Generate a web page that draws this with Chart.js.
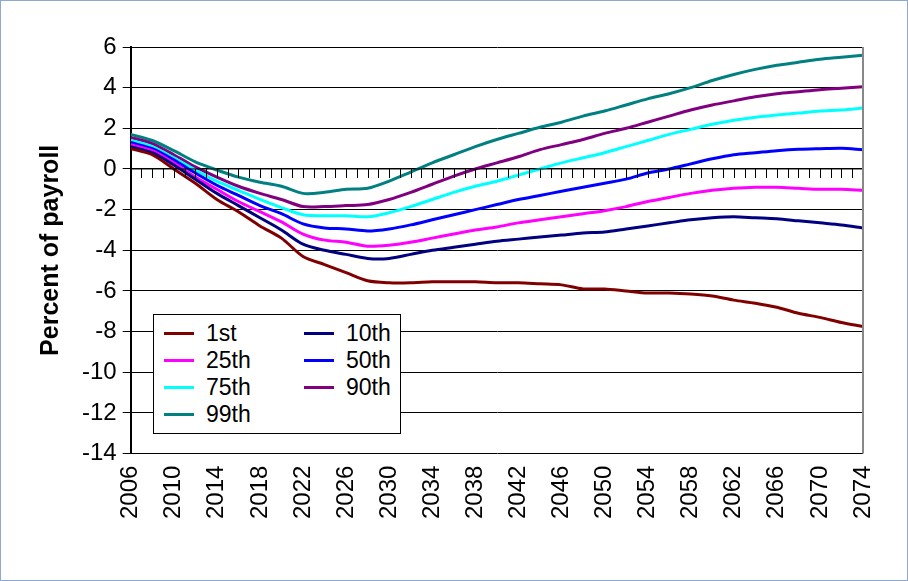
<!DOCTYPE html>
<html>
<head>
<meta charset="utf-8">
<script src="https://cdn.jsdelivr.net/npm/chart.js@4"></script>
<style>
  body { margin: 0; background: #fff; }
  #wrap { position: relative; width: 906px; height: 579px; border: 1px solid #8ea9cf; }
  #legend { position: absolute; left: 152px; top: 313px; width: 246px; height: 118px; border: 1px solid #000; background: #fff;
    font-family: "Liberation Sans", Arial, sans-serif; font-size: 23px; display: grid; grid-template-columns: 140px 106px;
    align-content: center; }
  #legend div { display: flex; align-items: center; height: 27px; padding-left: 10px; }
  #legend span { display: inline-block; width: 30px; height: 3px; margin-right: 12px; }
</style>
</head>
<body>
<div id="wrap">
  <canvas id="c" width="906" height="579"></canvas>
  <div id="legend"></div>
</div>
<script>
const years = [2006, 2008, 2010, 2012, 2014, 2016, 2018, 2020, 2022, 2024, 2026, 2028, 2030, 2032, 2034, 2036, 2038, 2040,
  2042, 2044, 2046, 2048, 2050, 2052, 2054, 2056, 2058, 2060, 2062, 2064, 2066, 2068, 2070, 2072, 2074];
const seriesNames = ['1st', '10th', '25th', '50th', '75th', '90th', '99th'];
const seriesColors = ['#800000', '#000080', '#ff00ff', '#0000ff', '#00ffff', '#800080', '#008080'];
const p1 = [1.0, 0.7, 0.0, -0.7, -1.5, -2.1, -2.8, -3.4, -4.3, -4.7, -5.1, -5.5, -5.6, -5.6, -5.55, -5.55, -5.55, -5.6,
  -5.6, -5.65, -5.7, -5.9, -5.9, -6.0, -6.1, -6.1, -6.15, -6.25, -6.45, -6.6, -6.8, -7.1, -7.3, -7.55, -7.75];
const p10 = [1.1, 0.8, 0.2, -0.5, -1.2, -1.8, -2.4, -3.0, -3.7, -4.0, -4.2, -4.4, -4.4, -4.2, -4.0, -3.85, -3.7, -3.55,
  -3.45, -3.35, -3.25, -3.15, -3.1, -2.95, -2.8, -2.65, -2.5, -2.4, -2.35, -2.4, -2.45, -2.55, -2.65, -2.75, -2.9];
const p25 = [1.2, 0.9, 0.3, -0.4, -1.0, -1.6, -2.1, -2.6, -3.2, -3.5, -3.6, -3.8, -3.75, -3.6, -3.4, -3.2, -3.0, -2.85,
  -2.65, -2.5, -2.35, -2.2, -2.05, -1.85, -1.6, -1.4, -1.2, -1.05, -0.95, -0.9, -0.9, -0.95, -1.0, -1.0, -1.05];
const p50 = [1.3, 1.0, 0.45, -0.2, -0.8, -1.3, -1.8, -2.2, -2.7, -2.9, -2.95, -3.05, -2.95, -2.75, -2.5, -2.25, -2.0, -1.75,
  -1.5, -1.3, -1.1, -0.9, -0.7, -0.5, -0.2, 0.0, 0.25, 0.5, 0.7, 0.8, 0.9, 0.97, 1.0, 1.02, 0.95];
const p75 = [1.4, 1.1, 0.55, -0.05, -0.6, -1.05, -1.5, -1.9, -2.25, -2.3, -2.3, -2.35, -2.15, -1.85, -1.5, -1.15, -0.85, -0.6,
  -0.3, 0.0, 0.3, 0.55, 0.8, 1.1, 1.4, 1.7, 1.95, 2.2, 2.4, 2.55, 2.65, 2.75, 2.85, 2.9, 3.0];
const p90 = [1.55, 1.25, 0.7, 0.1, -0.4, -0.85, -1.2, -1.5, -1.85, -1.85, -1.8, -1.75, -1.5, -1.15, -0.75, -0.35, 0.0, 0.3,
  0.6, 0.95, 1.2, 1.45, 1.75, 2.0, 2.3, 2.6, 2.9, 3.15, 3.35, 3.55, 3.7, 3.8, 3.9, 3.97, 4.05];
const p99 = [1.7, 1.4, 0.9, 0.35, -0.05, -0.4, -0.65, -0.85, -1.2, -1.15, -1.0, -0.95, -0.6, -0.15, 0.3, 0.7, 1.1, 1.45,
  1.75, 2.05, 2.3, 2.6, 2.85, 3.15, 3.45, 3.7, 4.0, 4.35, 4.65, 4.9, 5.1, 5.25, 5.4, 5.5, 5.6];
const allSeries = [p1, p10, p25, p50, p75, p90, p99];

const font = { family: '"Liberation Sans", Arial, sans-serif', size: 24 };

// small tick marks hanging off the zero line, one per year
const zeroTicks = {
  id: 'zeroTicks',
  afterDatasetsDraw(chart) {
    const { ctx, scales: { x, y } } = chart;
    const y0 = y.getPixelForValue(0);
    ctx.save();
    ctx.strokeStyle = '#000';
    ctx.lineWidth = 1;
    ctx.beginPath();
    ctx.moveTo(x.left, y0); ctx.lineTo(x.right, y0);
    for (let yr = 2006; yr <= 2074; yr++) {
      const px = Math.round(x.getPixelForValue(yr)) + 0.5;
      ctx.moveTo(px, y0); ctx.lineTo(px, y0 + 9);
    }
    ctx.stroke();
    ctx.restore();
  }
};

new Chart(document.getElementById('c'), {
  type: 'line',
  data: {
    datasets: seriesNames.map((name, i) => ({
      label: name,
      data: years.map((yr, j) => ({ x: yr, y: allSeries[i][j] })),
      borderColor: seriesColors[i],
      borderWidth: 3,
      pointRadius: 0,
      tension: 0.3,
      fill: false
    }))
  },
  options: {
    responsive: false,
    animation: false,
    layout: { padding: { top: 46, right: 44, left: 31, bottom: 49 } },
    plugins: { legend: { display: false }, tooltip: { enabled: false } },
    scales: {
      x: {
        type: 'linear', min: 2006, max: 2074,
        grid: { display: false, drawTicks: false },
        border: { display: false },
        ticks: {
          stepSize: 4, color: '#000', font, maxRotation: 90, minRotation: 90, padding: 12,
          callback: v => String(v)
        }
      },
      y: {
        min: -14, max: 6,
        grid: { color: '#000', drawTicks: true, tickLength: 8 },
        border: { color: '#000', width: 2 },
        ticks: { stepSize: 2, color: '#000', font, padding: 6 },
        title: { display: true, text: 'Percent of payroll', color: '#000', padding: { bottom: 10 },
          font: { family: font.family, size: 25, weight: 'bold' } }
      }
    }
  },
  plugins: [zeroTicks, {
    id: 'rightEdge',
    afterDraw(chart) {
      const { ctx, chartArea: a } = chart;
      ctx.save();
      ctx.strokeStyle = '#888';
      ctx.lineWidth = 2;
      ctx.beginPath(); ctx.moveTo(a.right, a.top); ctx.lineTo(a.right, a.bottom); ctx.stroke();
      ctx.restore();
    }
  }]
});

const legend = document.getElementById('legend');
seriesNames.forEach((name, i) => {
  const d = document.createElement('div');
  d.innerHTML = `<span style="background:${seriesColors[i]}"></span>${name}`;
  legend.appendChild(d);
});
</script>
</body>
</html>
